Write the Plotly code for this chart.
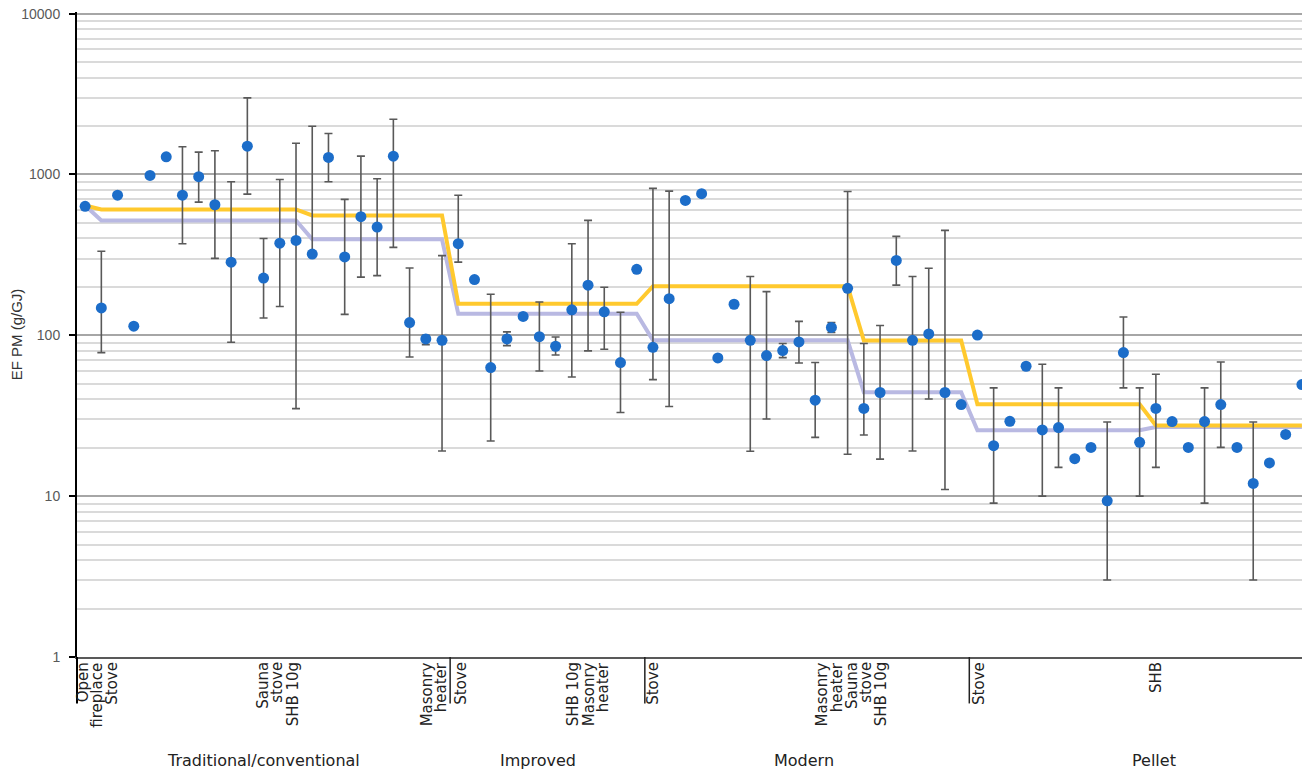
import plotly.graph_objects as go

# ---------------- data ----------------
ef_values = [
    634, 148, 743, 114, 986, 1288, 743, 968, 648, 285,
    1500, 227, 374, 389, 320, 1276, 307, 546, 471, 1300,
    120, 95, 93, 371, 222, 63, 95, 131, 98, 85.5,
    144, 205, 140, 67.7, 257, 84.2, 169, 690, 759, 72.3,
    156, 93, 74.8, 80.4, 90.9, 39.5, 112, 196, 35.1, 44.1,
    292, 93, 102, 44.1, 37.1, 100.4, 20.6, 29.2, 64.2, 25.8,
    26.7, 17.1, 20.1, 9.35, 78.1, 21.6, 35.1, 29.1, 20.1, 29.1,
    37.1, 20.1, 12.0, 16.1, 24.2, 49.4,
]
ef_upper = [
    None, 333, None, None, None, None, 1486, 1377, 1404, 901,
    2993, 400, 931, 1563, 1995, 1798, 700, 1300, 940, 2206,
    262, 100, 313, 743, None, 180, 105, None, 161, 97.7,
    371, 518, 199, 139, None, 819, 788, None, None, None,
    None, 232, 187, 89, 122, 67.7, 120, 784, 89, 115,
    412, 232, 261, 449, None, None, 47.1, None, None, 66.1,
    47.1, None, None, 28.9, 130, 47.1, 57.3, None, None, 47.1,
    68.2, None, 28.9, None, None, None,
]
ef_lower = [
    None, 78, None, None, None, None, 371, 673, 301, 90.5,
    755, 128, 151, 35, 320, 901, 135, 230, 235, 352,
    73.3, 87.5, 19.1, 285, None, 22, 86.3, None, 60, 75.5,
    55, 80, 81.9, 33.1, None, 53, 36.1, None, None, None,
    None, 19, 30.2, 72.6, 67.3, 23.2, 104, 18.2, 24.0, 17,
    205, 19.1, 40.2, 11.0, None, None, 9.05, None, None, 10.0,
    15.1, None, None, 3.01, 47.1, 10.0, 15.1, None, None, 9.05,
    20.1, None, 3.01, None, None, None,
]

# step lines: (value, number of categories)
mean_steps = [(641, 1), (606, 13), (556, 9), (157, 12), (202, 13), (92.7, 7), (37.3, 11), (27.5, 10)]
median_steps = [(641, 1), (518, 13), (395, 9), (136, 12), (93, 13), (44.3, 7), (25.7, 11), (26.9, 10)]

# group labels and group boundaries (category index)
groups = ["Traditional/conventional", "Improved", "Modern", "Pellet"]
group_label_pos = [10.97, 27.89, 44.32, 65.9]
group_boundaries = [22.5, 34.5, 54.5]

# appliance-type labels (one line each) and their category positions
sub_lines = ["Open", "fireplace", "Stove", "Sauna", "stove", "SHB 10g", "Masonry", "heater",
             "Stove", "SHB 10g", "Masonry", "heater",
             "Stove", "Masonry", "heater", "Sauna", "stove", "SHB 10g",
             "Stove", "SHB"]
sub_line_pos = [-0.13, 0.73, 1.66, 10.97, 11.83, 12.82, 21.08, 21.94,
                23.17, 30.08, 31.06, 31.92,
                35.01, 45.43, 46.35, 47.28, 48.14, 49.06,
                55.05, 65.96]

y_tick_vals = [1, 10, 100, 1000, 10000]
y_tick_text = ["1", "10", "100", "1000", "10000"]

# ---------------- derived ----------------
n = len(ef_values)
x_idx = list(range(n))
err_plus = [None if u is None else u - v for u, v in zip(ef_upper, ef_values)]
err_minus = [None if l is None else v - l for l, v in zip(ef_lower, ef_values)]

def expand(steps):
    out = []
    for val, cnt in steps:
        out += [val] * cnt
    return out

mean_line = expand(mean_steps)
median_line = expand(median_steps)

minor_vals = [m * 10 ** k for k in range(4) for m in range(2, 10)]

fig = go.Figure()
fig.add_trace(go.Scatter(x=x_idx, y=median_line, mode="lines",
                         line=dict(color="#B9B9E2", width=4), hoverinfo="skip", showlegend=False))
fig.add_trace(go.Scatter(x=x_idx, y=mean_line, mode="lines",
                         line=dict(color="#FFC92E", width=4), hoverinfo="skip", showlegend=False))
fig.add_trace(go.Scatter(
    x=x_idx, y=ef_values, mode="markers",
    marker=dict(color="#1C6DC9", size=11, line=dict(width=0)),
    error_y=dict(type="data", symmetric=False, array=err_plus, arrayminus=err_minus,
                 color="#595959", thickness=1.6, width=4),
    cliponaxis=False, showlegend=False))

font_lbl = "DejaVu Sans"
ann = []
for t, p in zip(sub_lines, sub_line_pos):
    ann.append(dict(x=p, y=-0.005, xref="x", yref="paper", text=t, textangle=-90,
                    showarrow=False, xanchor="center", yanchor="top",
                    font=dict(family=font_lbl, size=15, color="#222222")))
for t, p in zip(groups, group_label_pos):
    ann.append(dict(x=p, y=-0.16, xref="x", yref="paper", text=t, showarrow=False,
                    xanchor="center", yanchor="middle",
                    font=dict(family=font_lbl, size=16, color="#222222")))

shapes = []
for b in group_boundaries:
    shapes.append(dict(type="line", xref="x", yref="paper", x0=b, x1=b, y0=0, y1=-0.072,
                       line=dict(color="#222222", width=1.5)))
shapes.append(dict(type="line", xref="paper", yref="paper", x0=0, x1=0, y0=0, y1=-0.072,
                   line=dict(color="#000000", width=2)))

fig.update_layout(
    width=1302, height=763,
    margin=dict(l=69, r=0, t=4, b=114, autoexpand=False),
    paper_bgcolor="white", plot_bgcolor="white",
    annotations=ann, shapes=shapes,
    xaxis=dict(range=[-0.5, n - 0.5], showgrid=False, zeroline=False, showticklabels=False,
               ticks="", showline=True, linecolor="#595959", linewidth=1.5, automargin=False),
    yaxis=dict(type="log", range=[0, 4.01], tickmode="array", tickvals=y_tick_vals, ticktext=y_tick_text,
               automargin=False,
               showgrid=True, gridcolor="#A6A6A6", gridwidth=1.5,
               showline=True, linecolor="#000000", linewidth=2,
               ticks="outside", ticklen=6, tickwidth=2, tickcolor="#000000",
               ticklabelstandoff=6, ticklabeloverflow="allow",
               tickfont=dict(family="Liberation Sans", size=14, color="#595959"),
               minor=dict(tickmode="array", tickvals=minor_vals, showgrid=True,
                          gridcolor="#DADADA", gridwidth=1.5, ticks=""),
               zeroline=False,
               title=dict(text="EF PM (g/GJ)", standoff=3,
                          font=dict(family="Liberation Sans", size=15, color="#333333"))),
)

fig.write_html("out.html")
